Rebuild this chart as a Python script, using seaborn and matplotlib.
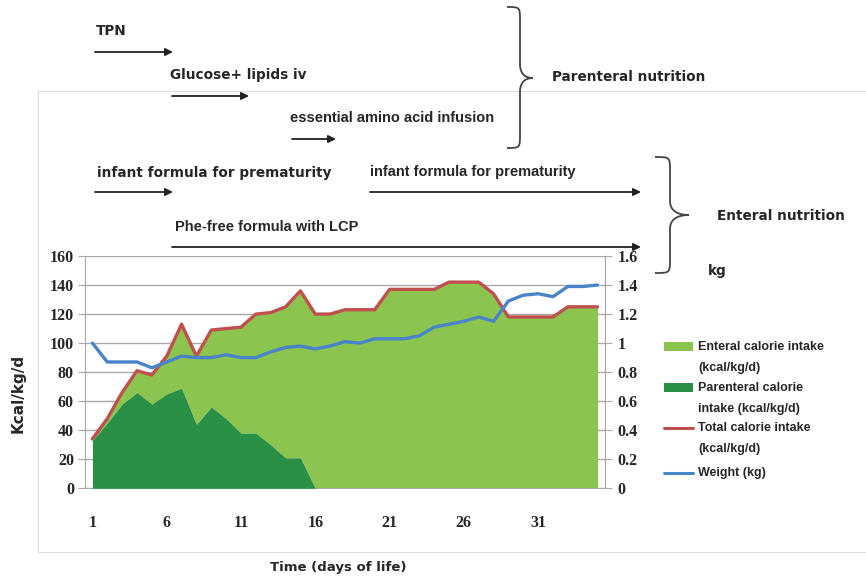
import matplotlib
matplotlib.use("Agg")
import matplotlib.pyplot as plt
from matplotlib.patches import Rectangle, PathPatch, FancyArrowPatch
from matplotlib.path import Path
from matplotlib.lines import Line2D
import seaborn as sns

# =========================
# DATA
# =========================
days = list(range(1, 36))

parenteral_kcal = [33, 45, 58, 66, 58, 65, 69, 44, 56, 48, 38, 38, 30, 21, 21,
                   0, 0, 0, 0, 0, 0, 0, 0, 0, 0, 0, 0, 0, 0, 0, 0, 0, 0, 0, 0]

enteral_kcal = [1, 3, 8, 15, 20, 26, 44, 47, 53, 62, 73, 82, 91, 104, 115,
                120, 120, 123, 123, 123, 137, 137, 137, 137, 142, 142, 142, 134,
                118, 118, 118, 118, 125, 125, 125]

total_kcal = [34, 48, 66, 81, 78, 91, 113, 91, 109, 110, 111, 120, 121, 125, 136,
              120, 120, 123, 123, 123, 137, 137, 137, 137, 142, 142, 142, 134,
              118, 118, 118, 118, 125, 125, 125]

weight_kg = [1.00, 0.87, 0.87, 0.87, 0.83, 0.87, 0.91, 0.90, 0.90, 0.92,
             0.90, 0.90, 0.94, 0.97, 0.98, 0.96, 0.98, 1.01, 1.00, 1.03,
             1.03, 1.03, 1.05, 1.11, 1.13, 1.15, 1.18, 1.15, 1.29, 1.33,
             1.34, 1.32, 1.39, 1.39, 1.40]

xtick_days = [1, 6, 11, 16, 21, 26, 31]
left_ticks = [0, 20, 40, 60, 80, 100, 120, 140, 160]
right_ticks = [0, 0.2, 0.4, 0.6, 0.8, 1.0, 1.2, 1.4, 1.6]
right_labels = ["0", "0.2", "0.4", "0.6", "0.8", "1", "1.2", "1.4", "1.6"]

legend_labels = ["Enteral calorie intake\n(kcal/kg/d)",
                 "Parenteral calorie\nintake (kcal/kg/d)",
                 "Total calorie intake\n(kcal/kg/d)",
                 "Weight (kg)"]

LIGHT_GREEN = "#8cc450"
DARK_GREEN = "#2a9045"
RED = "#c0504d"
BLUE = "#4a84c8"
GRID = "#a9a9a9"

# =========================
# STYLE
# =========================
sns.set_style("white")
plt.rcParams["font.family"] = ["Liberation Sans", "DejaVu Sans"]

W, H = 866, 579


def fx(x):
    return x / W


def fy(y):
    return 1 - y / H


fig = plt.figure(figsize=(W / 100, H / 100), dpi=100)

# light frame around the chart area
fig.add_artist(Rectangle((fx(38), fy(552)), fx(900) - fx(38), (552 - 91) / H,
                         transform=fig.transFigure, fill=False,
                         edgecolor="#dddddd", lw=0.8))

ax = fig.add_axes([fx(85), fy(488.3), (605 - 85) / W, (488.3 - 256) / H])

# =========================
# AREAS + LINES
# =========================
stack_top = [p + e for p, e in zip(parenteral_kcal, enteral_kcal)]
ax.fill_between(days, parenteral_kcal, stack_top, color=LIGHT_GREEN, lw=0, zorder=2)
ax.fill_between(days, 0, parenteral_kcal, color=DARK_GREEN, lw=0, zorder=3)
sns.lineplot(x=days, y=total_kcal, ax=ax, color=RED, linewidth=2.4, zorder=4,
             legend=False)

ax.set_xlim(0.5, 35.5)
ax.set_ylim(0, 160)
ax.set_yticks(left_ticks)
ax.set_xticks(xtick_days)
ax.set_xticks([d + 0.5 for d in range(0, 36)], minor=True)
ax.yaxis.grid(True, color=GRID, lw=1)
ax.set_axisbelow(True)

tick_font = dict(family="Liberation Serif", weight="bold", size=11.5)
ax.set_yticklabels([str(t) for t in left_ticks], **tick_font)
ax.set_xticklabels([str(d) for d in xtick_days], **tick_font)
ax.tick_params(axis="x", which="major", length=0, pad=19)
ax.tick_params(axis="x", which="minor", length=4, color=GRID, direction="out")
ax.tick_params(axis="y", length=5, color=GRID, pad=3, left=True)
ax.set_xlabel("")
ax.set_ylabel("")
for side in ["left", "bottom", "right"]:
    ax.spines[side].set_color(GRID)
ax.spines["top"].set_visible(False)

ax2 = ax.twinx()
sns.lineplot(x=days, y=weight_kg, ax=ax2, color=BLUE, linewidth=2.4, legend=False)
ax2.set_ylim(0, 1.6)
ax2.set_yticks(right_ticks)
ax2.set_yticklabels(right_labels, **tick_font)
ax2.tick_params(axis="y", length=5, color=GRID, pad=4, right=True)
ax2.set_ylabel("")
ax2.spines["right"].set_color(GRID)
for side in ["left", "bottom", "top"]:
    ax2.spines[side].set_visible(False)

# axis titles
fig.text(fx(18), fy(393), "Kcal/kg/d", rotation=90, ha="center", va="center",
         fontsize=11, weight="bold", family="DejaVu Sans")
fig.text(fx(338), fy(568), "Time (days of life)", ha="center", va="center",
         fontsize=9.5, weight="bold", family="DejaVu Sans")

# =========================
# LEGEND (drawn by hand, handles on first line)
# =========================
leg_font = dict(fontsize=9, weight="bold", ha="left", va="center")
fig.add_artist(Rectangle((fx(664), fy(351)), 29 / W, 9 / H,
                         transform=fig.transFigure, color=LIGHT_GREEN, lw=0))
fig.add_artist(Rectangle((fx(664), fy(392)), 29 / W, 9 / H,
                         transform=fig.transFigure, color=DARK_GREEN, lw=0))
fig.add_artist(Line2D([fx(664), fx(693)], [fy(428), fy(428)],
                      transform=fig.transFigure, color=RED, lw=2.2))
fig.add_artist(Line2D([fx(664), fx(693)], [fy(473), fy(473)],
                      transform=fig.transFigure, color=BLUE, lw=2.2))
for lab, y in zip(legend_labels, [347, 388, 428, 473]):
    for i, line in enumerate(lab.split("\n")):
        fig.text(fx(698), fy(y + i * 21), line, **leg_font)

# =========================
# TREATMENT ANNOTATIONS
# =========================
big = dict(fontsize=9.8, weight="bold", family="DejaVu Sans", ha="left", va="center")
small = dict(fontsize=10.5, weight="bold", family="Liberation Sans", ha="left", va="center")


def arrow(x0, x1, y):
    fig.add_artist(FancyArrowPatch(
        (fx(x0), fy(y)), (fx(x1), fy(y)), transform=fig.transFigure,
        arrowstyle="-|>", mutation_scale=11, lw=1.3, color="#222222",
        shrinkA=0, shrinkB=0))


fig.text(fx(96), fy(31), "TPN", **big)
arrow(95, 173, 52)
fig.text(fx(170), fy(75), "Glucose+ lipids iv", **big)
arrow(172, 249, 96)
fig.text(fx(290), fy(118), "essential amino acid infusion", **small)
arrow(292, 336, 139)
fig.text(fx(97), fy(173), "infant formula for prematurity", **big)
arrow(95, 173, 192)
fig.text(fx(370), fy(172), "infant formula for prematurity", **small)
arrow(370, 641, 192)
fig.text(fx(175), fy(227), "Phe-free formula with LCP", **small)
arrow(172, 641, 247)

fig.text(fx(552), fy(77), "Parenteral nutrition", **big)
fig.text(fx(717), fy(216), "Enteral nutrition", **big)
fig.text(fx(708), fy(271), "kg", **big)


def brace(x0, xv, tip, top, mid, bottom, k=14):
    pts = [(x0, top), (xv, top), (xv, top), (xv, top + k),
           (xv, mid - k),
           (xv, mid - k * 0.3), (xv + (tip - xv) * 0.4, mid), (tip, mid),
           (xv + (tip - xv) * 0.4, mid), (xv, mid + k * 0.3), (xv, mid + k),
           (xv, bottom - k),
           (xv, bottom), (xv, bottom), (x0, bottom)]
    codes = [Path.MOVETO, Path.CURVE4, Path.CURVE4, Path.CURVE4,
             Path.LINETO,
             Path.CURVE4, Path.CURVE4, Path.CURVE4,
             Path.CURVE4, Path.CURVE4, Path.CURVE4,
             Path.LINETO,
             Path.CURVE4, Path.CURVE4, Path.CURVE4]
    path = Path([(fx(a), fy(b)) for a, b in pts], codes)
    fig.add_artist(PathPatch(path, transform=fig.transFigure, fill=False,
                             edgecolor="#444444", lw=1.3))


brace(507, 520, 533, 7, 78, 148)
brace(655, 670, 689, 157, 215, 273)

plt.savefig("out.png", dpi=100)
